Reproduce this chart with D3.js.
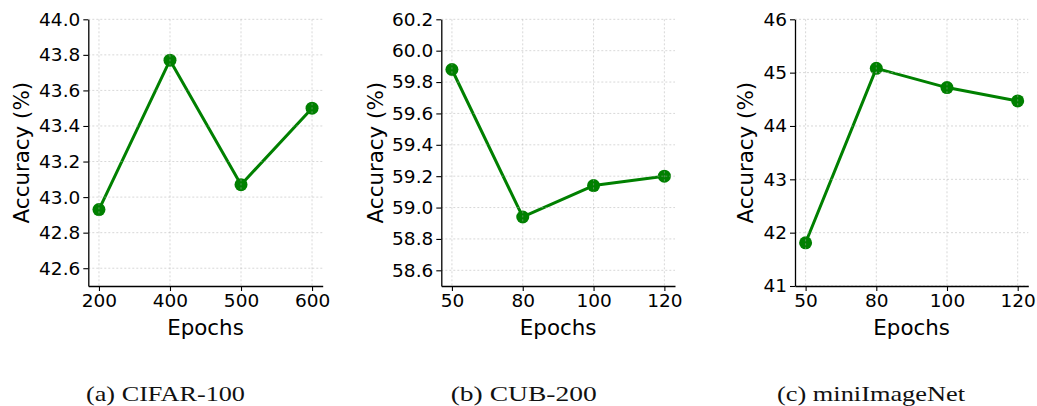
<!DOCTYPE html>
<html>
<head>
<meta charset="utf-8">
<script src="https://cdn.jsdelivr.net/npm/d3@7"></script>
<style>
  html, body { margin: 0; padding: 0; background: #fff; }
  svg { display: block; }
</style>
</head>
<body>
<svg id="chart" width="1037" height="406"></svg>
<script>
// ---- data ----
const cifarEpochs = ["200", "400", "500", "600"];
const cifarAcc = [42.93, 43.77, 43.07, 43.50];
const cifarYTicks = [42.6, 42.8, 43.0, 43.2, 43.4, 43.6, 43.8, 44.0];

const cubEpochs = ["50", "80", "100", "120"];
const cubAcc = [59.88, 58.94, 59.14, 59.20];
const cubYTicks = [58.6, 58.8, 59.0, 59.2, 59.4, 59.6, 59.8, 60.0, 60.2];

const miniEpochs = ["50", "80", "100", "120"];
const miniAcc = [41.81, 45.08, 44.72, 44.47];
const miniYTicks = [41, 42, 43, 44, 45, 46];

const captions = ["(a) CIFAR-100", "(b) CUB-200", "(c) miniImageNet"];
const xLabel = "Epochs";
const yLabel = "Accuracy (%)";

// ---- layout ----
const panels = [
  { cats: cifarEpochs, vals: cifarAcc, yTicks: cifarYTicks, yDom: [42.5, 44.0], fmt: d3.format(".1f"),
    left: 88.3, right: 322.7, yLabelX: 21.7, cap: captions[0], capX: 165.5, capW: 159 },
  { cats: cubEpochs, vals: cubAcc, yTicks: cubYTicks, yDom: [58.5, 60.2], fmt: d3.format(".1f"),
    left: 441.3, right: 675, yLabelX: 375, cap: captions[1], capX: 523.7, capW: 146 },
  { cats: miniEpochs, vals: miniAcc, yTicks: miniYTicks, yDom: [41, 46], fmt: d3.format("d"),
    left: 795, right: 1028.3, yLabelX: 745, cap: captions[2], capX: 871, capW: 188 }
];
const plotTop = 19.3, plotBottom = 286;
const green = "#008000";
const sans = "'DejaVu Sans', sans-serif";

const svg = d3.select("#chart");

panels.forEach(p => {
  const x = d3.scaleLinear().domain([-0.15, p.cats.length - 1 + 0.15]).range([p.left, p.right]);
  const y = d3.scaleLinear().domain(p.yDom).range([plotBottom, plotTop]);
  const idx = p.cats.map((c, i) => i);
  const g = svg.append("g");

  // line + markers first (grid is drawn on top)
  const line = d3.line().x((d, i) => x(i)).y(d => y(d));
  g.append("path").datum(p.vals)
    .attr("d", line)
    .attr("fill", "none")
    .attr("stroke", green)
    .attr("stroke-width", 3)
    .attr("stroke-linejoin", "round");
  g.selectAll("circle.pt").data(p.vals).enter().append("circle")
    .attr("class", "pt")
    .attr("cx", (d, i) => x(i))
    .attr("cy", d => y(d))
    .attr("r", 6.5)
    .attr("fill", green);

  // grid
  const grid = g.append("g").attr("stroke", "#b0b0b0").attr("stroke-opacity", 0.55)
    .attr("stroke-width", 0.9).attr("stroke-dasharray", "2,2");
  grid.selectAll("line.gy").data(p.yTicks).enter().append("line")
    .attr("x1", p.left).attr("x2", p.right)
    .attr("y1", d => y(d)).attr("y2", d => y(d));
  grid.selectAll("line.gx").data(idx).enter().append("line")
    .attr("x1", d => x(d)).attr("x2", d => x(d))
    .attr("y1", plotTop).attr("y2", plotBottom);

  // axes
  const xAxis = d3.axisBottom(x).tickValues(idx).tickFormat(i => p.cats[i])
    .tickSizeInner(5).tickSizeOuter(0).tickPadding(3);
  const gx = g.append("g").attr("transform", `translate(0,${plotBottom})`).call(xAxis);
  const yAxis = d3.axisLeft(y).tickValues(p.yTicks).tickFormat(p.fmt)
    .tickSizeInner(5).tickSizeOuter(0).tickPadding(3);
  const gy = g.append("g").attr("transform", `translate(${p.left},0)`).call(yAxis);
  [gx, gy].forEach(a => {
    a.select(".domain").attr("stroke", "#000").attr("stroke-width", 1.3);
    a.selectAll(".tick line").attr("stroke", "#000").attr("stroke-width", 1.1);
    a.selectAll(".tick text").attr("font-family", sans).attr("font-size", 18.5).attr("fill", "#000");
  });

  // labels
  g.append("text")
    .attr("x", (p.left + p.right) / 2).attr("y", 335)
    .attr("text-anchor", "middle")
    .attr("font-family", sans).attr("font-size", 21.4)
    .text(xLabel);
  g.append("text")
    .attr("transform", `translate(${p.yLabelX},${(plotTop + plotBottom) / 2}) rotate(-90)`)
    .attr("text-anchor", "middle").attr("dominant-baseline", "central")
    .attr("font-family", sans).attr("font-size", 21.4)
    .text(yLabel);

  // caption
  g.append("text")
    .attr("x", p.capX).attr("y", 400.5)
    .attr("text-anchor", "middle")
    .attr("font-family", "'Liberation Serif', 'Times New Roman', serif")
    .attr("font-size", 22)
    .attr("textLength", p.capW).attr("lengthAdjust", "spacingAndGlyphs")
    .attr("fill", "#111")
    .text(p.cap);
});
</script>
</body>
</html>
